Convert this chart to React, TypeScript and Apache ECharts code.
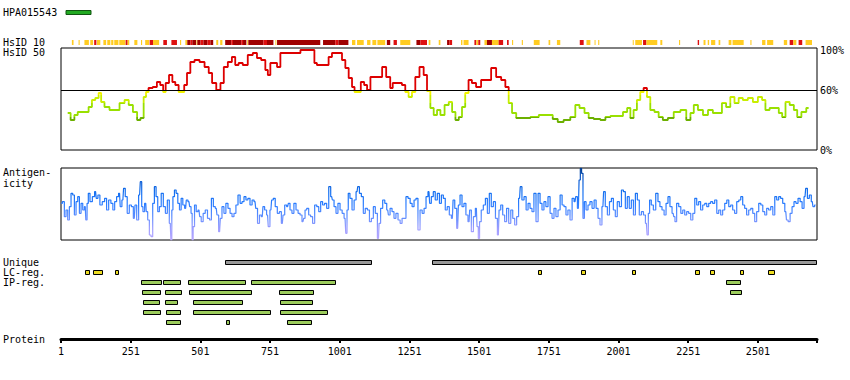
import React, { useEffect, useRef } from 'react';
import * as echarts from 'echarts';

const PROTEIN_LENGTH = 2713;
const PROTEIN_TICKS = [1, 251, 501, 751, 1001, 1251, 1501, 1751, 2001, 2251, 2501];
const HSID_TICKS = [0, 60, 100];
const HSID_THRESHOLD = 60;

// HsID 50 identity (%) along the protein: [residue, percent]
const HSID50: [number, number][] = [
  [25,37],[46,30],[52,35],[70,38],[94,38],[106,43],[118,50],[130,52],[142,57],[148,48],[166,43],[184,40],[202,40],[220,47],[238,50],[250,45],[268,38],[280,30],[292,32],[303,53],[309,58],[321,62],[339,63],[351,68],[363,65],[372,58],[381,67],[396,75],[405,68],[417,65],[429,58],[439,58],[447,65],[459,77],[471,88],[489,90],[507,88],[525,83],[537,77],[549,67],[567,60],[579,67],[591,83],[608,88],[620,93],[632,85],[644,87],[662,85],[680,95],[698,97],[710,92],[728,90],[740,80],[746,75],[758,87],[770,87],[782,83],[794,97],[818,97],[848,97],[872,100],[907,100],[913,87],[925,85],[955,85],[967,93],[979,97],[1003,97],[1015,90],[1027,82],[1039,72],[1051,63],[1057,58],[1069,58],[1084,68],[1093,65],[1105,60],[1117,73],[1135,73],[1147,73],[1159,83],[1176,73],[1188,62],[1194,67],[1218,67],[1230,65],[1242,58],[1254,53],[1266,58],[1278,73],[1296,83],[1308,75],[1320,59],[1332,42],[1344,35],[1356,40],[1368,35],[1386,45],[1398,48],[1410,38],[1422,30],[1434,33],[1445,43],[1457,57],[1469,70],[1481,67],[1499,63],[1517,70],[1535,70],[1553,82],[1571,73],[1589,70],[1601,63],[1613,47],[1625,37],[1643,32],[1673,32],[1697,33],[1733,35],[1756,35],[1774,31],[1792,28],[1816,30],[1840,33],[1852,45],[1870,42],[1888,37],[1900,32],[1924,31],[1948,30],[1960,33],[1984,34],[2008,34],[2026,38],[2038,42],[2049,32],[2061,40],[2073,50],[2085,58],[2097,62],[2109,53],[2121,40],[2139,38],[2151,33],[2169,30],[2187,32],[2211,38],[2235,40],[2253,30],[2265,37],[2277,45],[2295,40],[2313,35],[2331,40],[2348,37],[2366,37],[2378,47],[2396,43],[2408,53],[2426,47],[2438,52],[2456,50],[2474,52],[2492,48],[2510,53],[2522,50],[2534,40],[2552,42],[2570,42],[2582,37],[2594,33],[2606,48],[2624,45],[2636,40],[2648,33],[2666,38],[2683,42]
];

// Antigenicity score along the protein: [residue, score]
const ANTIGENICITY: [number, number][] = [
  [2,110],[10,115],[16,70],[22,90],[28,60],[34,100],[40,140],[46,135],[52,75],[58,115],[64,130],[70,80],[76,110],[82,90],[88,100],[92,60],[97,110],[101,140],[109,115],[118,130],[125,145],[130,125],[137,135],[144,105],[154,115],[161,125],[168,90],[176,120],[184,110],[190,90],[197,115],[204,130],[211,140],[216,100],[223,120],[228,155],[235,130],[242,80],[250,105],[257,100],[264,65],[269,105],[276,60],[283,135],[288,175],[293,100],[297,85],[305,110],[309,85],[315,60],[321,15],[327,10],[333,110],[339,160],[345,130],[351,85],[357,100],[364,140],[372,100],[379,80],[386,120],[393,50],[397,0],[400,90],[405,130],[411,150],[417,140],[423,110],[429,90],[435,125],[441,105],[448,95],[453,120],[460,115],[465,100],[470,80],[473,0],[477,40],[483,105],[489,85],[496,90],[501,70],[507,55],[515,80],[522,90],[531,65],[537,60],[544,125],[551,100],[558,95],[563,75],[570,25],[575,65],[582,100],[589,80],[596,110],[604,95],[611,80],[618,70],[625,80],[632,105],[640,135],[647,110],[654,115],[661,130],[668,120],[675,125],[683,105],[690,120],[697,115],[702,95],[710,50],[716,75],[723,70],[728,100],[735,90],[742,75],[747,40],[754,90],[759,120],[766,125],[773,100],[781,80],[788,85],[795,50],[800,75],[807,105],[814,100],[819,110],[826,90],[833,80],[840,110],[848,90],[855,80],[862,75],[869,55],[874,65],[879,90],[886,95],[893,75],[900,70],[907,50],[915,105],[922,100],[929,85],[936,115],[943,105],[950,110],[958,95],[965,160],[972,130],[977,120],[984,100],[991,80],[998,110],[1006,90],[1013,80],[1020,65],[1025,20],[1029,90],[1034,140],[1041,125],[1049,90],[1056,120],[1063,145],[1068,160],[1075,140],[1082,130],[1089,80],[1096,95],[1104,90],[1111,55],[1118,65],[1125,100],[1132,80],[1140,5],[1144,50],[1151,95],[1159,120],[1166,110],[1173,90],[1178,75],[1185,95],[1192,85],[1199,65],[1206,80],[1214,60],[1221,50],[1228,65],[1235,65],[1242,130],[1250,125],[1257,110],[1264,100],[1271,120],[1278,125],[1285,30],[1293,90],[1300,80],[1307,95],[1314,130],[1321,145],[1326,110],[1333,130],[1340,145],[1347,120],[1355,140],[1362,110],[1369,135],[1376,125],[1383,90],[1390,100],[1398,75],[1405,65],[1410,120],[1417,95],[1424,35],[1429,105],[1436,135],[1443,100],[1450,110],[1457,75],[1465,55],[1469,90],[1477,25],[1484,70],[1491,95],[1496,40],[1500,5],[1505,55],[1512,90],[1520,105],[1527,125],[1534,80],[1541,140],[1548,100],[1556,115],[1563,65],[1570,15],[1575,90],[1582,105],[1589,75],[1596,55],[1603,95],[1611,50],[1618,90],[1625,65],[1632,45],[1639,70],[1646,125],[1651,160],[1658,120],[1666,130],[1673,90],[1680,110],[1687,95],[1694,85],[1701,140],[1709,55],[1716,140],[1723,110],[1730,90],[1737,115],[1744,100],[1752,130],[1759,80],[1766,65],[1773,95],[1780,70],[1788,90],[1795,135],[1802,105],[1809,100],[1816,75],[1823,90],[1831,60],[1838,125],[1845,115],[1850,130],[1857,95],[1862,180],[1866,215],[1871,200],[1876,65],[1881,115],[1888,90],[1895,105],[1902,115],[1910,95],[1917,120],[1924,95],[1931,65],[1938,45],[1945,100],[1950,145],[1957,100],[1965,75],[1972,115],[1979,125],[1986,90],[1993,70],[2000,115],[2008,100],[2015,150],[2022,145],[2029,95],[2036,130],[2043,95],[2051,120],[2058,75],[2065,140],[2072,120],[2079,75],[2087,85],[2094,75],[2101,50],[2106,15],[2110,80],[2115,120],[2122,105],[2130,90],[2139,140],[2146,115],[2153,100],[2161,90],[2168,75],[2175,110],[2182,130],[2189,100],[2197,80],[2201,70],[2206,55],[2213,110],[2221,100],[2228,80],[2235,90],[2242,75],[2249,85],[2256,80],[2264,60],[2271,80],[2278,125],[2285,105],[2292,115],[2299,90],[2307,105],[2314,110],[2321,100],[2328,110],[2335,115],[2342,110],[2350,120],[2357,80],[2364,90],[2371,75],[2378,90],[2386,110],[2393,120],[2400,100],[2407,105],[2414,90],[2421,80],[2429,115],[2436,120],[2443,130],[2450,105],[2457,95],[2464,75],[2472,90],[2479,95],[2486,80],[2493,55],[2500,85],[2508,110],[2515,105],[2522,85],[2529,75],[2536,95],[2543,90],[2551,100],[2558,75],[2565,130],[2572,120],[2579,130],[2586,125],[2594,110],[2601,85],[2606,60],[2613,55],[2620,80],[2627,100],[2634,115],[2641,110],[2649,125],[2656,115],[2663,95],[2670,130],[2675,155],[2682,125],[2689,135],[2696,115],[2701,100],[2708,105]
];

// HsID 10 strip: [start, end, level] level 1 = yellow, 2 = red, 3 = dark red
const HSID10: [number, number, number][] = [
  [40,46,1],[64,68,1],[85,101,1],[106,116,1],[120,128,2],[130,142,1],[153,163,1],[167,178,1],[181,189,1],[192,207,1],[210,232,1],[233,240,2],[240,246,1],[264,275,1],[288,292,1],[303,317,1],[319,331,2],[331,353,1],[368,381,2],[397,417,2],[428,432,1],[447,454,1],[454,465,3],[465,472,2],[472,486,3],[487,489,1],[490,501,3],[501,512,2],[512,526,3],[526,537,2],[537,547,3],[558,565,1],[572,580,1],[590,612,3],[612,618,2],[618,648,3],[648,654,2],[654,666,3],[669,672,1],[673,727,3],[727,740,2],[740,763,3],[770,773,1],[776,931,3],[941,985,3],[985,996,2],[996,1032,3],[1045,1057,1],[1063,1087,1],[1099,1111,1],[1118,1132,1],[1136,1164,1],[1170,1182,3],[1194,1206,2],[1218,1254,1],[1276,1290,3],[1290,1314,2],[1320,1326,1],[1356,1362,1],[1386,1394,3],[1394,1404,2],[1436,1441,1],[1445,1463,1],[1484,1491,2],[1491,1498,1],[1498,1505,2],[1520,1529,1],[1529,1547,3],[1547,1571,1],[1571,1587,2],[1601,1607,2],[1619,1623,1],[1654,1658,1],[1697,1718,1],[1750,1756,1],[1780,1792,1],[1862,1876,2],[1886,1900,1],[1915,1918,1],[1928,1932,1],[2052,2055,1],[2061,2085,1],[2089,2101,2],[2101,2140,1],[2151,2158,1],[2218,2222,1],[2285,2290,2],[2306,2313,1],[2321,2326,1],[2333,2348,1],[2360,2366,1],[2396,2406,1],[2410,2450,1],[2474,2478,1],[2516,2528,1],[2534,2556,1],[2594,2606,1],[2615,2628,2],[2628,2639,1],[2647,2660,2],[2672,2695,1]
];

const UNIQUE_REGIONS: [number, number][] = [[588, 1112], [1331, 2710]];
const LC_REGIONS: [number, number][] = [
  [86,100],[114,148],[193,202],[1711,1723],[1865,1878],[2048,2057],[2274,2290],[2328,2344],[2435,2446],[2536,2559]
];
// IP regions: [start, end, track]
const IP_REGIONS: [number, number, number][] = [
  [287,360,0],[366,428,0],[455,661,0],[681,984,0],[2386,2437,0],
  [290,356,1],[373,432,1],[459,683,1],[782,905,1],[2400,2441,1],
  [294,353,2],[373,417,2],[473,647,2],[785,898,2],
  [294,356,3],[376,428,3],[473,751,3],[785,955,3],
  [376,428,4],[592,604,4],[811,898,4]
];

const ROW_UNIQUE = 0;
const ROW_LC = 1;
const ROW_IP_FIRST = 2;

const FONT = 'DejaVu Sans Mono';
const STRIP_COLORS: Record<number, string> = { 1: '#ffcc22', 2: '#dd1111', 3: '#a00000' };

function boxRenderer(fill: string) {
  return (params: any, api: any) => {
    const s = api.coord([api.value(0), api.value(2)]);
    const e = api.coord([api.value(1), api.value(2)]);
    return {
      type: 'rect',
      shape: { x: Math.round(s[0]) + 0.5, y: Math.round(s[1] - 2) + 0.5, width: Math.max(2, Math.round(e[0] - s[0])), height: 4 },
      style: { fill, stroke: '#000', lineWidth: 1 },
    };
  };
}

function buildOption(): any {
  const xBase = { type: 'value', min: 1, max: PROTEIN_LENGTH, show: false };
  const labelTexts = [
    { t: 'HsID 10', y: 42.5 },
    { t: 'HsID 50', y: 52.5 },
    { t: 'Antigen-', y: 172.5 },
    { t: 'icity', y: 183.5 },
    { t: 'Unique', y: 262.5 },
    { t: 'LC-reg.', y: 272.5 },
    { t: 'IP-reg.', y: 282.5 },
    { t: 'Protein', y: 339 },
  ];
  return {
    animation: false,
    backgroundColor: '#fff',
    grid: [
      { left: 61, top: 48, width: 756, height: 102, show: true, borderColor: '#000', borderWidth: 1, backgroundColor: 'transparent' },
      { left: 61, top: 168, width: 756, height: 72, show: true, borderColor: '#000', borderWidth: 1, backgroundColor: 'transparent' },
      { left: 61, top: 40, width: 756, height: 5 },
      { left: 61, top: 257, width: 756, height: 80 },
      { left: 61, top: 300, width: 756, height: 39 },
    ],
    xAxis: [
      { ...xBase, gridIndex: 0 },
      { ...xBase, gridIndex: 1 },
      { ...xBase, gridIndex: 2 },
      { ...xBase, gridIndex: 3 },
      {
        type: 'value', gridIndex: 4, min: 1, max: PROTEIN_LENGTH, position: 'bottom',
        axisLine: { show: true, lineStyle: { color: '#000', width: 3 } },
        axisTick: { show: true, customValues: [...PROTEIN_TICKS, PROTEIN_LENGTH], length: 4, lineStyle: { color: '#000', width: 2 } },
        axisLabel: { customValues: PROTEIN_TICKS, formatter: (v: number) => String(v), fontFamily: FONT, fontSize: 10, color: '#000', margin: 7 },
        splitLine: { show: false },
      },
    ],
    yAxis: [
      {
        type: 'value', gridIndex: 0, min: 0, max: 102, position: 'right',
        axisLine: { show: false }, axisTick: { show: false }, splitLine: { show: false },
        axisLabel: { customValues: HSID_TICKS, formatter: (v: number) => v + '%', fontFamily: FONT, fontSize: 10, color: '#000', margin: 3 },
      },
      { type: 'value', gridIndex: 1, min: 0, max: 216, show: false },
      { type: 'value', gridIndex: 2, min: 0, max: 1, show: false },
      { type: 'value', gridIndex: 3, min: -0.5, max: 7.5, inverse: true, show: false },
      { type: 'value', gridIndex: 4, min: 0, max: 1, show: false },
    ],
    visualMap: [
      {
        type: 'piecewise', show: false, seriesIndex: 0, dimension: 1,
        pieces: [
          { lt: 33, color: '#6cb000' },
          { gte: 33, lt: 47, color: '#99e000' },
          { gte: 47, lt: 55, color: '#c8ee00' },
          { gte: 55, lt: HSID_THRESHOLD, color: '#f2f200' },
          { gte: HSID_THRESHOLD, color: '#dd0000' },
        ],
      },
      {
        type: 'continuous', show: false, seriesIndex: 1, dimension: 1, min: 0, max: 216,
        inRange: { color: ['#b8a8ff', '#9a9cff', '#5a8cff', '#2a7cff', '#1570f0', '#0a5ad0', '#003c90'] },
      },
    ],
    graphic: [
      { type: 'text', x: 3, y: 12.7, style: { text: 'HPA015543', fontFamily: FONT, fontSize: 10, fill: '#000', verticalAlign: 'middle' } },
      { type: 'rect', shape: { x: 66, y: 10.5, width: 25, height: 4 }, style: { fill: '#22aa22', stroke: '#115511', lineWidth: 1 } },
      ...labelTexts.map((l) => ({ type: 'text', x: 3, y: l.y, style: { text: l.t, fontFamily: FONT, fontSize: 10, fill: '#000', verticalAlign: 'middle' } })),
    ],
    series: [
      {
        type: 'line', xAxisIndex: 0, yAxisIndex: 0, data: HSID50, showSymbol: false, step: 'middle',
        lineStyle: { width: 1.8 },
        markLine: {
          silent: true, symbol: ['none', 'none'], label: { show: false },
          lineStyle: { color: '#000', width: 1, type: 'solid' },
          data: [{ yAxis: HSID_THRESHOLD }],
        },
      },
      {
        type: 'line', xAxisIndex: 1, yAxisIndex: 1, data: ANTIGENICITY, showSymbol: false, step: 'middle',
        lineStyle: { width: 1.2 },
      },
      {
        type: 'custom', xAxisIndex: 2, yAxisIndex: 2, data: HSID10, encode: { x: [0, 1] },
        renderItem: (params: any, api: any) => {
          const s = api.coord([api.value(0), 1]);
          const e = api.coord([api.value(1), 0]);
          return {
            type: 'rect',
            shape: { x: s[0], y: s[1], width: Math.max(1, e[0] - s[0]), height: e[1] - s[1] },
            style: { fill: STRIP_COLORS[api.value(2)] },
          };
        },
      },
      {
        type: 'custom', xAxisIndex: 3, yAxisIndex: 3, encode: { x: [0, 1], y: 2 },
        data: UNIQUE_REGIONS.map(([s, e]) => [s, e, ROW_UNIQUE]),
        renderItem: boxRenderer('#999999'),
      },
      {
        type: 'custom', xAxisIndex: 3, yAxisIndex: 3, encode: { x: [0, 1], y: 2 },
        data: LC_REGIONS.map(([s, e]) => [s, e, ROW_LC]),
        renderItem: boxRenderer('#eedd22'),
      },
      {
        type: 'custom', xAxisIndex: 3, yAxisIndex: 3, encode: { x: [0, 1], y: 2 },
        data: IP_REGIONS.map(([s, e, t]) => [s, e, ROW_IP_FIRST + t]),
        renderItem: boxRenderer('#9ccc5c'),
      },
    ],
  };
}

export default function App() {
  const ref = useRef<HTMLDivElement>(null);
  useEffect(() => {
    if (!ref.current) return;
    const chart = echarts.init(ref.current, null, { renderer: 'svg' });
    chart.setOption(buildOption());
    return () => chart.dispose();
  }, []);
  return <div ref={ref} style={{ position: 'fixed', left: 0, top: 0, width: 850, height: 380, background: '#fff' }} />;
}
